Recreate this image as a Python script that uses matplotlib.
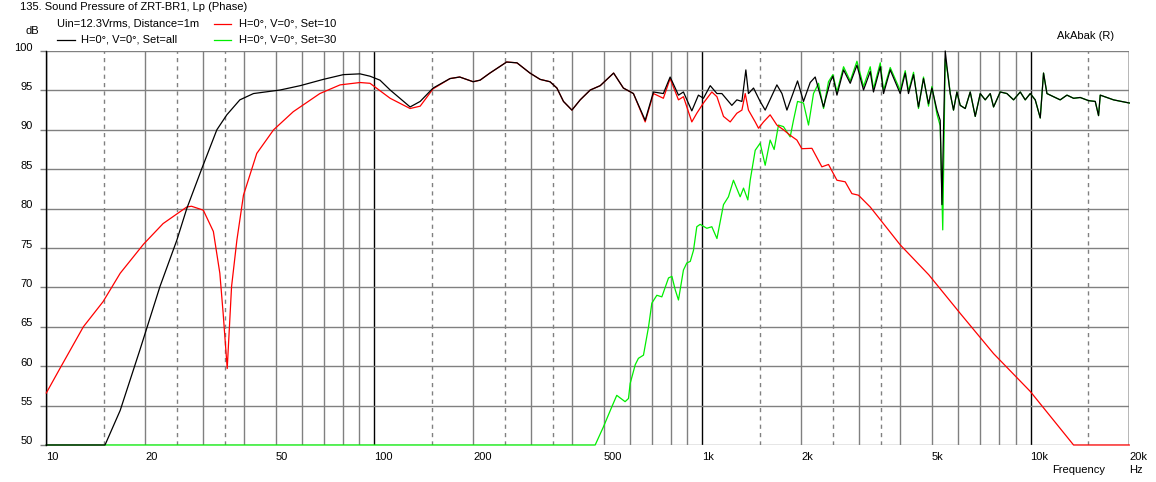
import matplotlib
matplotlib.use("Agg")
import numpy as np
from matplotlib import pyplot as plt
from matplotlib.lines import Line2D
from matplotlib.transforms import ScaledTranslation

# Set=all (black)
black_f = [10, 15.1, 16.8, 19.3, 22.2, 25.0, 26.8, 29.8, 33.1, 35.5, 38.9, 42.8,
           51.6, 59.4, 69.9, 80.4, 90.4, 97, 104, 111.7, 128.5, 137.9, 151, 170,
           182, 200, 210, 225, 253, 272, 298, 320, 343, 360, 377, 400, 424, 455,
           488, 536, 574, 616, 669, 709, 760, 797, 845, 875, 928, 972, 1007, 1056,
           1107, 1146, 1229, 1273, 1319, 1356, 1381, 1431, 1499, 1553, 1686, 1747,
           1809, 1949, 2032, 2130, 2206, 2339, 2451, 2498, 2570, 2692, 2821, 2957,
           3097, 3246, 3321, 3483, 3564, 3735, 4006, 4150, 4246, 4399, 4555, 4718,
           4887, 5006, 5184, 5305, 5370, 5495, 5623, 5691, 5824, 5965, 6105, 6323,
           6549, 6783, 7026, 7276, 7537, 7714, 8085, 8472, 8876, 9304, 9634, 9980,
           10335, 10705, 10955, 11220, 11752, 12314, 12912, 13525, 14171, 15025,
           15748, 16118, 16310, 17906, 20000]
black_db = [50, 50, 54.4, 62.1, 70.1, 76.0, 80.0, 85.1, 90.0, 91.9, 93.8, 94.6,
            95.05, 95.6, 96.4, 97.0, 97.1, 96.8, 96.3, 95.05, 92.9, 93.6, 95.3, 96.5,
            96.7, 96.1, 96.3, 97.2, 98.6, 98.5, 97.2, 96.4, 96.1, 95.3, 93.6, 92.5, 93.8, 95.05,
            95.6, 97.2, 95.3, 94.6, 91.2, 94.8, 94.6, 96.7, 94.4, 94.8, 92.4, 94.4, 94.0, 95.6,
            94.6, 94.6, 93.1, 93.8, 93.6, 97.6, 94.6, 95.3, 93.6, 92.5, 95.7, 94.6,
            92.5, 96.2, 93.6, 96.0, 96.7, 92.9, 96.1, 96.8, 94.4, 97.6, 95.9, 98.2,
            95.05, 97.4, 94.8, 98.0, 94.6, 97.6, 94.6, 97.2, 94.6, 97.0, 92.9, 96.5,
            93.3, 95.3, 92.5, 91.2, 80.5, 100, 96.3, 94.6, 92.5, 94.8, 93.1, 92.7,
            94.8, 91.7, 94.6, 93.8, 94.6, 92.9, 94.8, 94.6, 93.8, 94.8, 93.8, 94.6,
            93.8, 91.5, 97.2, 94.6, 94.2, 93.8, 94.4, 94.0, 94.1, 93.7,
            93.6, 91.8, 94.4, 93.8, 93.4]

# Set=10 (red)
red_f = [10, 11.0, 12.97, 14.9, 16.8, 19.8, 22.7, 26.8, 27.7, 30.1, 32.3, 33.8,
         34.6, 35.6, 36.7, 38.1, 39.9, 43.8, 49.3, 56.6, 68.2, 78.6, 90.4, 97,
         111.7, 128.5, 137.9, 151, 170, 182, 200, 210, 225, 253, 272, 298, 320,
         343, 360, 377, 400, 424, 455, 488, 536, 574, 616, 669, 709, 760, 797,
         845, 875, 928, 961, 1007, 1068, 1107, 1159, 1215, 1273, 1319, 1350, 1381,
         1448, 1482, 1535, 1608, 1686, 1766, 1851, 1940, 2009, 2156, 2312, 2422,
         2570, 2723, 2854, 2989, 3246, 3483, 4006, 4896, 6105, 7714, 9980, 13525,
         20000]
red_db = [56.6, 59.7, 65.0, 68.2, 71.8, 75.5, 78.1, 80.2, 80.3, 79.8, 77.1, 71.8,
          66.7, 59.7, 70.1, 76.0, 81.7, 87.0, 90.0, 92.3, 94.6, 95.7, 96.0, 95.9,
          94.0, 92.7, 93.0, 95.2, 96.5, 96.7, 96.1, 96.3, 97.2, 98.6, 98.5, 97.2, 96.4,
          96.1, 95.3, 93.6, 92.5, 93.8, 95.05, 95.6, 97.2, 95.3, 94.6, 91.0, 94.6, 94.0, 96.5,
          93.8, 94.2, 91.0, 92.1, 93.4, 94.8, 94.2, 91.7, 91.0, 92.1, 92.5, 94.6, 92.5,
          91.0, 90.2, 91.0, 91.9, 90.6, 90.0, 89.3, 88.7, 87.6, 87.65, 85.3, 85.6,
          83.6, 83.4, 81.9, 81.7, 80.2, 78.6, 75.4, 71.6, 66.7, 61.6, 56.8, 50,
          50]

# Set=30 (green), low part; above 5.7 kHz it runs under the black curve
green_f = [10, 471, 499, 530, 548, 581, 595, 602, 624, 638, 661, 685, 701, 726,
           752, 788, 807, 826, 845, 875, 896, 918, 939, 961, 984, 1031, 1068, 1107,
           1159, 1200, 1243, 1303, 1334, 1375, 1398, 1448, 1499, 1553, 1608, 1654,
           1705, 1766, 1851, 1894, 1949, 2032, 2105, 2180, 2258, 2339, 2422, 2498,
           2570, 2692, 2821, 2957, 3097, 3246, 3321, 3483, 3564, 3735, 4006, 4150,
           4246, 4399, 4555, 4718, 4887, 5006, 5184, 5305, 5400, 5495, 5623]
green_db = [50, 50, 52.3, 54.9, 56.3, 55.5, 55.9, 57.8, 60.2, 61.0, 61.4, 65.0, 68.0, 69.0,
            68.8, 71.2, 71.4, 69.7, 68.4, 72.2, 73.1, 73.3, 74.7, 77.7, 78.0, 77.5, 77.7, 76.2,
            80.5, 81.5, 83.6, 81.5, 82.6, 81.1, 83.6, 87.4, 88.3, 85.5, 88.7, 87.5,
            90.6, 90.4, 89.1, 91.2, 93.6, 93.4, 90.6, 94.6, 95.9, 92.7, 96.1, 97.0,
            94.8, 98.0, 96.2, 98.7, 95.5, 98.0, 95.2, 98.5, 95.0, 97.9, 95.0, 97.5,
            94.9, 97.3, 92.7, 96.7, 93.0, 95.5, 92.0, 90.5, 77.3, 99.0, 96.5]
tail = black_f.index(5691)
green_f = green_f + black_f[tail:]
green_db = green_db + black_db[tail:]

xtick_vals = [10, 20, 50, 100, 200, 500, 1000, 2000, 5000, 10000, 20000]
xtick_labels = ['10', '20', '50', '100', '200', '500', '1k', '2k', '5k', '10k', '20k']
ytick_vals = list(range(50, 101, 5))

W, H = 1156, 482
plt.rcParams['font.family'] = ['Liberation Sans', 'DejaVu Sans']
plt.rcParams['font.size'] = 8

fig = plt.figure(figsize=(W / 100, H / 100), dpi=100)
ax = fig.add_axes([46.3 / W, 37 / H, 1083 / W, 394 / H])
ax.set_xscale('log')
ax.set_xlim(10, 20000)
ax.set_ylim(50, 100)

gray = '#808080'
lw = 1.0
# grid lines
for dec in [10, 100, 1000, 10000]:
    for m in range(1, 10):
        f = dec * m
        if f > 20000:
            continue
        if m == 1:
            ax.axvline(f, color='black', lw=lw, zorder=1)
        else:
            ax.axvline(f, color=gray, lw=lw, zorder=1)
    for m in [1.5, 2.5, 3.5]:
        f = dec * m
        if f < 20000:
            ax.axvline(f, color=gray, lw=lw, ls=(0, (3, 3)), zorder=1)
ax.axvline(20000, color='black', lw=lw, zorder=1)
for y in ytick_vals:
    ax.axhline(y, color=gray, lw=lw, zorder=1)

for s in ['top', 'bottom', 'right']:
    ax.spines[s].set_visible(False)
ax.spines['left'].set_linewidth(lw)

ax.plot(green_f, green_db, color='#00ee00', lw=0.9, zorder=2, clip_on=False)
ax.plot(red_f, red_db, color='#ff0000', lw=0.9, zorder=3, clip_on=False)
ax.plot(black_f, black_db, color='black', lw=0.9, zorder=4, clip_on=False)

ax.set_xticks(xtick_vals)
ax.set_xticklabels(xtick_labels, ha='left')
ax.xaxis.set_minor_locator(matplotlib.ticker.NullLocator())
ax.tick_params(axis='x', length=0, pad=5)
ax.set_yticks(ytick_vals)
ax.set_yticklabels([str(v) for v in ytick_vals])
ax.tick_params(axis='y', length=4, width=lw, color=gray, pad=6)
for lab in ax.get_yticklabels():
    lab.set_transform(lab.get_transform() + ScaledTranslation(0, 0.045, fig.dpi_scale_trans))


def fx(px):
    return px / W


def fy(py):
    return 1 - py / H


fig.text(fx(20), fy(7), '135. Sound Pressure of ZRT-BR1, Lp (Phase)', va='center')
fig.text(fx(57), fy(24), 'Uin=12.3Vrms, Distance=1m', va='center')
fig.text(fx(26), fy(31), 'dB', va='center')
fig.add_artist(Line2D([fx(57), fx(75)], [fy(40), fy(40)], color='black', lw=0.9))
fig.text(fx(81), fy(40), 'H=0°, V=0°, Set=all', va='center')
fig.add_artist(Line2D([fx(214), fx(231)], [fy(24), fy(24)], color='#ff0000', lw=0.9))
fig.text(fx(239), fy(24), 'H=0°, V=0°, Set=10', va='center')
fig.add_artist(Line2D([fx(214), fx(231)], [fy(40), fy(40)], color='#00ee00', lw=0.9))
fig.text(fx(239), fy(40), 'H=0°, V=0°, Set=30', va='center')
fig.text(fx(1057), fy(36), 'AkAbak (R)', va='center')
fig.text(fx(1052), fy(470), 'Frequency', va='center')
fig.text(fx(1129), fy(470), 'Hz', va='center')

fig.savefig('out.png', dpi=100)
